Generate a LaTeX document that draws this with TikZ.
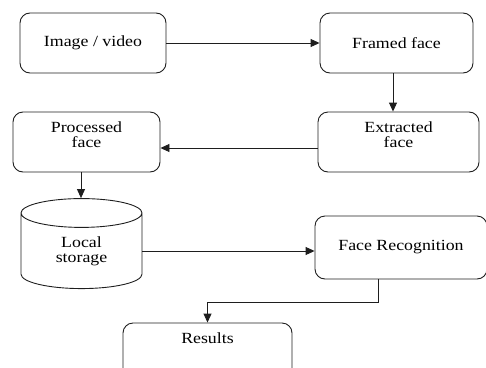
\documentclass[tikz,border=0pt]{standalone}
\usepackage{fontspec}
\setmainfont{Liberation Serif}[FakeStretch=1.15]
\usepackage{tikz}
\usetikzlibrary{arrows.meta}
\usetikzlibrary{shapes.geometric}
\definecolor{boxline}{RGB}{30,30,30}
\newcommand{\heightbox}{60pt}
\tikzset{
    common/.style={draw=boxline, line width=0.9pt, align=center, font=\fontsize{15.5}{15}\selectfont},
    stage/.style={common, rectangle, rounded corners=10pt, minimum height=\heightbox, inner sep=0pt},
    store/.style={common, cylinder, shape border rotate=90, aspect=0.56, inner sep=0pt},
    flow/.style={draw=boxline, line width=0.9pt, -{Triangle[length=9pt,width=8pt]}}
}
\begin{document}
\begin{tikzpicture}[x=1pt, y=1pt]
      \useasboundingbox (0,0) rectangle (486,-367);

      \path
          (93,-43) node[stage, minimum width=146pt] (image) {Image / video}
          (396.5,-43) node[stage, minimum width=153pt] (framed) {Framed face}
          (398.5,-142) node[stage, minimum width=161pt] (extracted) {Extracted\\face\\\mbox{}}
          (86.5,-142) node[stage, minimum width=147pt] (processed) {Processed\\face\\\mbox{}}
          (81.5,-251) node[store, minimum width=121pt, minimum height=90pt] (storage) {Local\\storage}
          (401,-247.5) node[stage, minimum width=172pt, minimum height=63pt] (recognition) {Face Recognition}
          (207.5,-353) node[stage, minimum width=169pt] (results) {Results\\\mbox{}\\\mbox{}};

      \coordinate (framed-out) at ([xshift=-3.5pt]framed.south);
      \coordinate (processed-out) at ([xshift=-5.5pt]processed.south);
      \coordinate (extracted-out) at ([yshift=-6pt]extracted.west);
      \coordinate (recognition-out) at ([xshift=-23pt]recognition.south);

      \draw[flow] (image.east) -- (framed.west);
      \draw[flow] (framed-out) -- (framed-out |- extracted.north);
      \draw[flow] (extracted-out) -- (extracted-out -| processed.east);
      \draw[flow] (processed-out) -- (processed-out |- storage.north);
      \draw[flow] (storage.east) -- (storage.east -| recognition.west);
      \draw[flow] (recognition-out) -- ++(0,-23) -| (results.north);
    \end{tikzpicture}
\end{document}
